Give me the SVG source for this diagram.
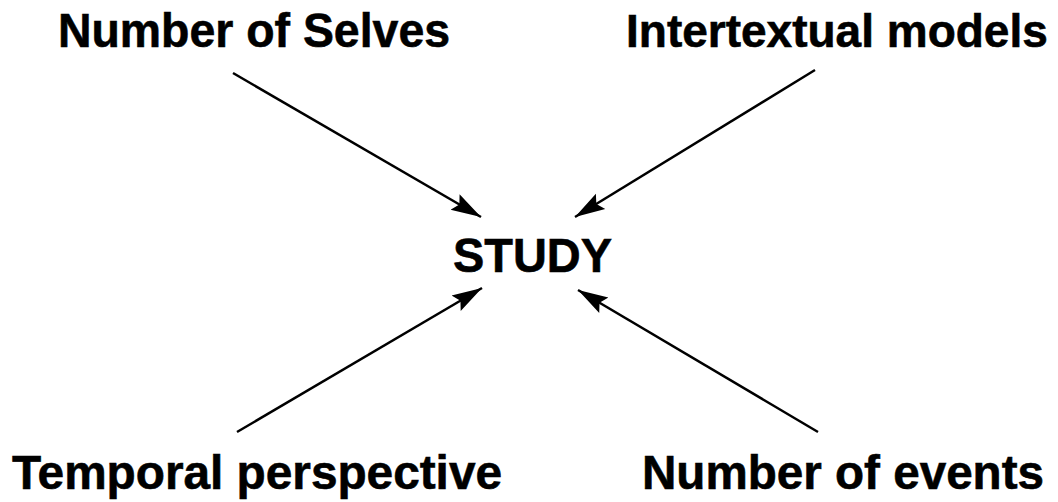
<svg xmlns="http://www.w3.org/2000/svg" width="1058" height="502" viewBox="0 0 1058 502">
<style>
.lbl{font-family:"Liberation Sans",Arial,sans-serif;font-weight:bold;font-size:48px;fill:#000;stroke:#000;stroke-width:0.6}
.arr{stroke:#000;stroke-width:2.5;fill:none;marker-end:url(#ah)}
</style>
<defs>
<marker id="ah" markerUnits="userSpaceOnUse" markerWidth="32" markerHeight="20" refX="30" refY="9" orient="auto" viewBox="0 0 32 18">
<path d="M0,0 L30,9 L0,18 L5,9 Z" fill="#000"/>
</marker>
</defs>
<rect width="1058" height="502" fill="#fff"/>
<g id="connectors">
<line class="arr" x1="233" y1="73" x2="481" y2="217"/>
<line class="arr" x1="815" y1="70" x2="575" y2="217"/>
<line class="arr" x1="237" y1="432" x2="482" y2="288"/>
<line class="arr" x1="818" y1="432" x2="578" y2="290"/>
</g>
<g id="study"><text class="lbl" x="453" y="272" textLength="159" lengthAdjust="spacingAndGlyphs">STUDY</text></g>
<g id="selves"><text class="lbl" x="58" y="47" textLength="392" lengthAdjust="spacingAndGlyphs">Number of Selves</text></g>
<g id="intertextual"><text class="lbl" x="626" y="47" style="font-size:46px">Intertextual models</text></g>
<g id="temporal"><text class="lbl" x="12" y="489" textLength="490" lengthAdjust="spacingAndGlyphs">Temporal perspective</text></g>
<g id="events"><text class="lbl" x="642" y="489" textLength="402" lengthAdjust="spacingAndGlyphs">Number of events</text></g>
</svg>
